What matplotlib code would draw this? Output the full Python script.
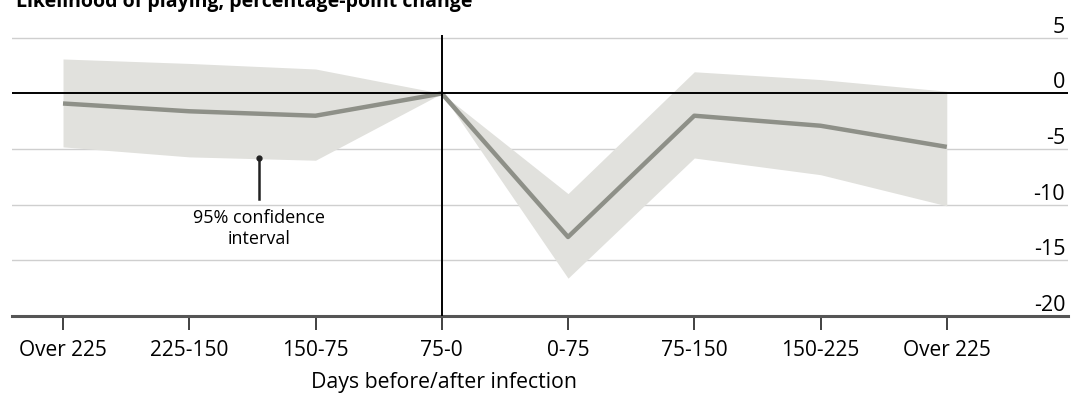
import numpy as np
import matplotlib.pyplot as plt

plt.rcParams['font.family'] = ['Open Sans', 'DejaVu Sans']

periods = ['Over 225', '225-150', '150-75', '75-0', '0-75', '75-150', '150-225', 'Over 225']
change = [-0.9, -1.6, -2.0, 0.0, -12.9, -2.0, -2.9, -4.8]
upper = [3.1, 2.7, 2.2, 0.0, -9.0, 1.95, 1.25, 0.2]
lower = [-4.8, -5.7, -6.0, 0.0, -16.6, -5.8, -7.3, -10.1]
y_ticks = [5, 0, -5, -10, -15, -20]

x = np.arange(len(periods))

fig = plt.figure(figsize=(10.88, 3.98), dpi=100)
ax = fig.add_axes([12 / 1088, 82 / 398, 1056 / 1088, 281.5 / 398])

ax.fill_between(x, lower, upper, color='#e1e1dd', linewidth=0, zorder=1)
ax.plot(x, change, color='#8e9088', linewidth=3.2, solid_capstyle='butt', zorder=3)

# grid + reference lines
for v in y_ticks:
    if v not in (0, -20):
        ax.axhline(v, color='#cfcfcf', linewidth=1, zorder=0)
ax.axhline(0, color='black', linewidth=1.4, zorder=4)
ax.axvline(3, color='black', linewidth=1.4, zorder=4)

ax.set_xlim(-0.404, 7.96)
ax.set_ylim(-20, 5.3)

for s in ['top', 'left', 'right']:
    ax.spines[s].set_visible(False)
ax.spines['bottom'].set_color('#555555')
ax.spines['bottom'].set_linewidth(2.2)

ax.set_xticks(x)
ax.set_xticklabels(periods, fontsize=15)
ax.tick_params(axis='x', length=10, width=1.3, color='#333333', pad=7)

ax.yaxis.tick_right()
ax.set_yticks(y_ticks)
ax.set_yticklabels([str(v) for v in y_ticks], fontsize=15.5)
ax.tick_params(axis='y', length=0, pad=-2)
for lab in ax.get_yticklabels():
    lab.set_horizontalalignment('right')
    lab.set_verticalalignment('bottom')

ax.set_xlabel('Days before/after infection', fontsize=15.3)
ax.xaxis.set_label_coords(432 / 1056, -0.2)

# annotation
ax.plot([1.55, 1.55], [-5.8, -9.5], color='#222222', linewidth=1.8, zorder=5)
ax.plot([1.55], [-5.8], marker='o', markersize=3.5, color='#222222', zorder=5)
ax.text(1.55, -10.4, '95% confidence\ninterval', ha='center', va='top',
        fontsize=13, linespacing=1.2)

# title, partly cropped at the top as in the source image
fig.text(16 / 1088, 1.0 - 12 / 398, 'Likelihood of playing, percentage-point change',
         fontsize=14, fontweight='bold', ha='left', va='bottom')

fig.savefig('out.png', dpi=100)
